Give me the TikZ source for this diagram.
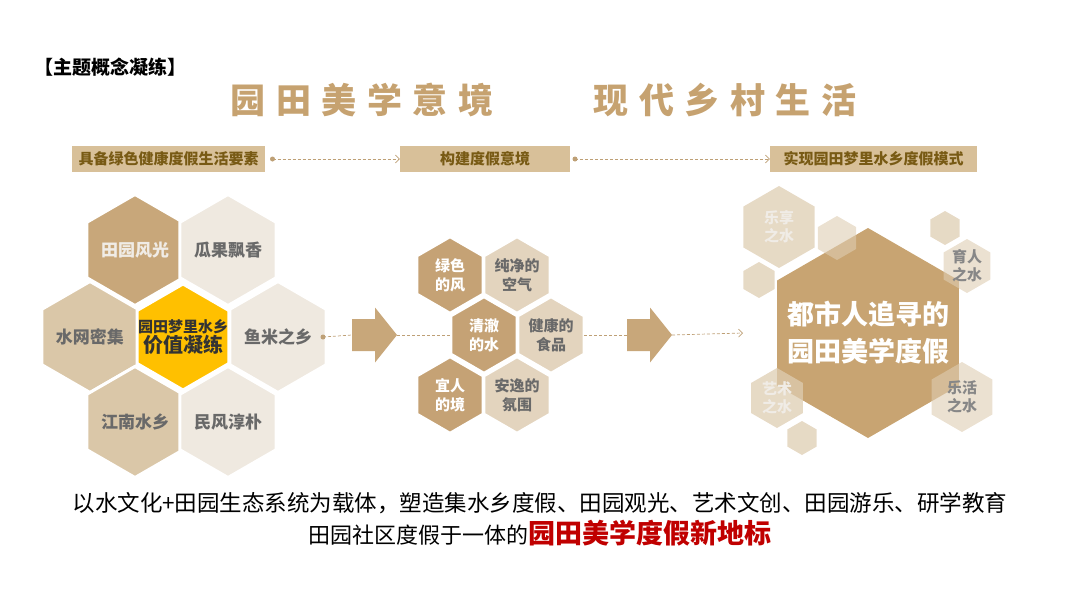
\documentclass[tikz,border=0pt]{standalone}
\usepackage{fontspec}
\setmainfont{Noto Sans CJK SC}
\usetikzlibrary{shapes.geometric,arrows.meta}

\definecolor{titlec}{RGB}{198,162,112}
\definecolor{barfill}{RGB}{216,192,153}
\definecolor{bartext}{RGB}{120,90,20}
\definecolor{linec}{RGB}{190,160,118}
\definecolor{hexdark}{RGB}{200,167,122}
\definecolor{hexmid}{RGB}{218,199,168}
\definecolor{hexpale}{RGB}{239,233,224}
\definecolor{hexgold}{RGB}{255,192,0}
\definecolor{midDark}{RGB}{197,162,117}
\definecolor{midLight}{RGB}{227,212,190}
\definecolor{bigfill}{RGB}{200,164,114}
\definecolor{smallfill}{RGB}{222,205,178}
\definecolor{greytext}{RGB}{105,105,105}
\definecolor{palettext}{RGB}{240,236,230}
\definecolor{redc}{RGB}{192,0,0}

\tikzstyle{hexa} = [regular polygon, regular polygon sides=6, shape border rotate=30, inner sep=0pt, outer sep=0pt, align=center]
\tikzstyle{comb} = [hexa, draw=white, line width=3pt, font=\fontsize{17}{17}\selectfont\bfseries]
\tikzstyle{bar} = [rectangle, fill=barfill, text=bartext, minimum height=26pt, inner sep=0pt, font=\fontsize{15}{15}\selectfont\bfseries]
\tikzstyle{link} = [draw=linec, densely dashed, line width=0.7pt]
\tikzstyle{slogan} = [text=titlec, font=\fontsize{35}{35}\selectfont\bfseries\addfontfeatures{LetterSpace=30}]

\begin{document}
\begin{tikzpicture}[x=1pt, y=-1pt, >={Straight Barb[length=4pt,width=8pt]}]
  \useasboundingbox (0,0) rectangle (1080,608);

  % headings
  \node [anchor=west, font=\fontsize{19}{19}\selectfont\bfseries] (theme) at (31,67) {【主题概念凝练】};
  \node [slogan] (slogan1) at (362,100) {园田美学意境};
  \node [slogan] (slogan2) at (725,100) {现代乡村生活};

  % step bars
  \node [bar, minimum width=193pt] (bar1) at (168.5,159) {具备绿色健康度假生活要素};
  \node [bar, minimum width=170pt] (bar2) at (485,159) {构建度假意境};
  \node [bar, minimum width=207pt] (bar3) at (873.5,159) {实现园田梦里水乡度假模式};
  \coordinate [right of=bar1, node distance=104pt] (d1);
  \coordinate [right of=bar2, node distance=90pt] (d2);
  \draw [link,->] (d1) -- (bar2);
  \draw [link,->] (d2) -- (bar3);
  \fill [linec] (d1) circle (2.5pt);
  \fill [linec] (d2) circle (2.5pt);

  % left honeycomb
  \node [comb, minimum size=106pt, fill=hexdark, text=palettext] (tyfg) at (135,250) {田园风光};
  \node [comb, minimum size=106pt, fill=hexpale, text=greytext] (ggpx) at (228,250) {瓜果飘香};
  \node [comb, minimum size=106pt, fill=hexmid, text=greytext] (swmj) at (90,337) {水网密集};
  \node [comb, minimum size=106pt, fill=hexpale, text=greytext] (ymzx) at (278,337) {鱼米之乡};
  \node [comb, minimum size=106pt, fill=hexmid, text=greytext] (jnsx) at (135,422) {江南水乡};
  \node [comb, minimum size=106pt, fill=hexpale, text=greytext] (mfcp) at (228,422) {民风淳朴};
  \node [comb, minimum size=106pt, fill=hexgold] (core) at (183,337) {};
  \node [align=center, text=black!80, font=\bfseries, inner sep=0pt] (coreText) at (core) {{\fontsize{15}{19}\selectfont 园田梦里水乡}\\{\fontsize{20}{24}\selectfont 价值凝练}};

  % middle honeycomb
  \node [comb, minimum size=76pt, line width=2.5pt, fill=midDark, text=white, font=\fontsize{15}{19}\selectfont\bfseries] (lsdf) at (450,275) {绿色\\的风};
  \node [comb, minimum size=76pt, line width=2.5pt, fill=midLight, text=greytext, font=\fontsize{15}{19}\selectfont\bfseries] (cjkq) at (517,275) {纯净的\\空气};
  \node [comb, minimum size=76pt, line width=2.5pt, fill=midDark, text=white, font=\fontsize{15}{19}\selectfont\bfseries] (qcds) at (484,335) {清澈\\的水};
  \node [comb, minimum size=76pt, line width=2.5pt, fill=midLight, text=greytext, font=\fontsize{15}{19}\selectfont\bfseries] (jksp) at (551,335) {健康的\\食品};
  \node [comb, minimum size=76pt, line width=2.5pt, fill=midDark, text=white, font=\fontsize{15}{19}\selectfont\bfseries] (yrdj) at (450,395) {宜人\\的境};
  \node [comb, minimum size=76pt, line width=2.5pt, fill=midLight, text=greytext, font=\fontsize{15}{19}\selectfont\bfseries] (ayfw) at (517,395) {安逸的\\氛围};

  % big arrows
  \coordinate (arr1) at (375,335);
  \coordinate (arr2) at (650,335);
  \fill [hexdark] (arr1) ++(-23,-16) -- ++(23,0) -- ++(0,-11.5) -- ++(22,27.5) -- ++(-22,27.5) -- ++(0,-11.5) -- ++(-23,0) -- cycle;
  \fill [hexdark] (arr2) ++(-23,-16) -- ++(23,0) -- ++(0,-11.5) -- ++(22,27.5) -- ++(-22,27.5) -- ++(0,-11.5) -- ++(-23,0) -- cycle;
  \coordinate [left of=arr1, node distance=23pt] (tail1);
  \coordinate [right of=arr1, node distance=22pt] (tip1);
  \coordinate [left of=arr2, node distance=23pt] (tail2);
  \coordinate [right of=arr2, node distance=22pt] (tip2);

  % right cluster
  \node [hexa, minimum size=210pt, fill=bigfill] (goal) at (868,333) {};
  \node [align=center, text=white, inner sep=0pt, font=\fontsize{27}{37}\selectfont\bfseries] (goalText) at (goal) {都市人追寻的\\园田美学度假};
  \node [hexa, minimum size=82pt, fill=smallfill, fill opacity=0.75, text opacity=1, text=palettext, font=\fontsize{15}{18}\selectfont\bfseries] (lxzs) at (779,227) {乐享\\之水};
  \node [hexa, minimum size=44pt, fill=smallfill, fill opacity=0.6] (s1) at (837,238) {};
  \node [hexa, minimum size=36pt, fill=smallfill, fill opacity=0.75] (s2) at (759,280) {};
  \node [hexa, minimum size=34pt, fill=smallfill, fill opacity=0.75] (s3) at (945,228) {};
  \node [hexa, minimum size=54pt, fill=smallfill, fill opacity=0.6] (yrzs) at (967,266) {};
  \node [align=center, inner sep=0pt, text=greytext!80, font=\fontsize{15}{18}\selectfont\bfseries] at (yrzs) {育人\\之水};
  \node [hexa, minimum size=60pt, fill=smallfill, fill opacity=0.75, text opacity=1, text=palettext, font=\fontsize{15}{18}\selectfont\bfseries] (yszs) at (777,398) {艺术\\之水};
  \node [hexa, minimum size=34pt, fill=smallfill, fill opacity=0.75] (s4) at (802,438) {};
  \node [hexa, minimum size=70pt, fill=smallfill, fill opacity=0.6, text opacity=1, text=greytext!80, font=\fontsize{15}{18}\selectfont\bfseries] (lhzs) at (962,397) {乐活\\之水};

  % flow line
  \coordinate [right of=ymzx, node distance=45pt] (d3);
  \coordinate [left of=goal, node distance=125pt] (g);
  \draw [link] (d3) -- (tail1);
  \draw [link] (tip1) -- (qcds);
  \draw [link] (jksp) -- (tail2);
  \draw [link,->] (tip2) -- (g);
  \fill [linec] (d3) circle (2.5pt);

  % summary
  \node [font=\fontsize{22.5}{22.5}\selectfont] (sum1) at (540,503) {以水文化+田园生态系统为载体，塑造集水乡度假、田园观光、艺术文创、田园游乐、研学教育};
  \node [font=\fontsize{22}{22}\selectfont] (sum2) at (540,533) {田园社区度假于一体的{\color{redc}\bfseries\fontsize{27}{27}\selectfont 园田美学度假新地标}};
\end{tikzpicture}
\end{document}
